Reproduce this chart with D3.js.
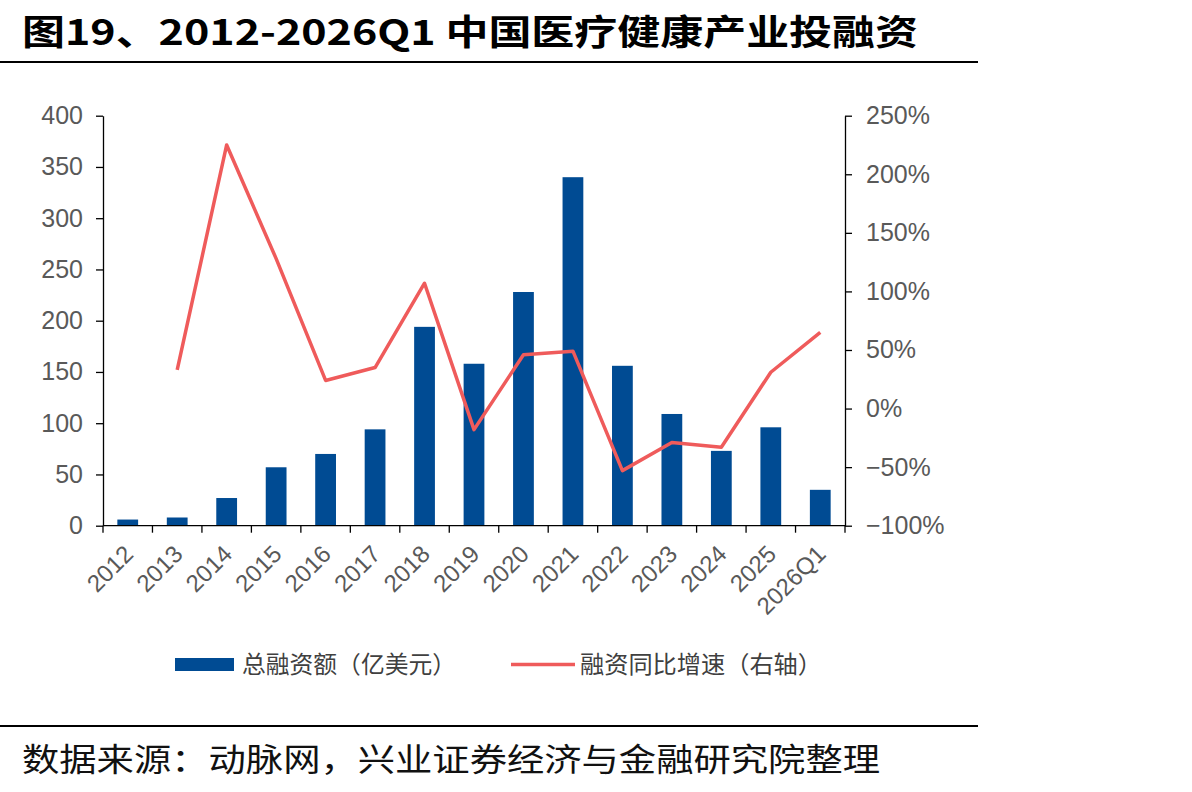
<!DOCTYPE html>
<html>
<head>
<meta charset="utf-8">
<script src="https://cdn.jsdelivr.net/npm/d3@7"></script>
<style>
  body { margin: 0; background: #fff; }
  svg { display: block; }
</style>
</head>
<body>
<div id="chart"></div>
<script>
// data
var years = ["2012","2013","2014","2015","2016","2017","2018","2019","2020","2021","2022","2023","2024","2025","2026Q1"];
var amount = [6, 8, 27, 57, 70, 94, 194, 158, 228, 340, 156, 109, 73, 96, 35];
var growth = [null, 33, 225, 128, 24, 35, 107, -18, 46, 49, -53, -29, -33, 31, 65];
var leftTicks = [0, 50, 100, 150, 200, 250, 300, 350, 400];
var rightTicks = [-100, -50, 0, 50, 100, 150, 200, 250];

var W = 1192, H = 792;
var plot = {left: 103, right: 845, top: 115.7, bottom: 525.7};
var cjk = "'Noto Sans CJK SC', 'Liberation Sans', sans-serif";
var latin = "'Liberation Sans', Arial, sans-serif";

var svg = d3.select("#chart").append("svg")
    .attr("width", W).attr("height", H);

// title + rules
svg.append("text")
    .attr("x", 22).attr("y", 45)
    .attr("font-family", "'Liberation Sans Narrow', 'Noto Sans CJK SC', sans-serif")
    .attr("font-weight", "bold").attr("font-size", 35)
    .attr("textLength", 896).attr("lengthAdjust", "spacingAndGlyphs")
    .attr("fill", "#000")
    .text("图19、2012-2026Q1 中国医疗健康产业投融资");
svg.append("line").attr("x1", 0).attr("x2", 978).attr("y1", 62).attr("y2", 62)
    .attr("stroke", "#000").attr("stroke-width", 2);
svg.append("line").attr("x1", 0).attr("x2", 978).attr("y1", 726).attr("y2", 726)
    .attr("stroke", "#000").attr("stroke-width", 2);
svg.append("text")
    .attr("x", 22).attr("y", 771)
    .attr("font-family", cjk).attr("font-size", 32)
    .attr("textLength", 858).attr("lengthAdjust", "spacingAndGlyphs")
    .attr("fill", "#111")
    .text("数据来源：动脉网，兴业证券经济与金融研究院整理");

// scales
var x = d3.scaleBand().domain(years).range([plot.left, plot.right]).paddingInner(0.58).paddingOuter(0.29);
var xTick = d3.scaleBand().domain(years).range([plot.left, plot.right]);
var yL = d3.scaleLinear().domain([0, 400]).range([plot.bottom, plot.top]);
var yR = d3.scaleLinear().domain([-100, 250]).range([plot.bottom, plot.top]);

// bars
svg.append("g").selectAll("rect")
    .data(years)
    .enter().append("rect")
    .attr("x", function(d) { return x(d); })
    .attr("width", x.bandwidth())
    .attr("y", function(d, i) { return yL(amount[i]); })
    .attr("height", function(d, i) { return yL(0) - yL(amount[i]); })
    .attr("fill", "#004B93");

// growth line (right axis)
var pts = years.map(function(d, i) { return {k: d, v: growth[i]}; });
svg.append("path")
    .datum(pts)
    .attr("fill", "none")
    .attr("stroke", "#EF5B5B")
    .attr("stroke-width", 3.5)
    .attr("stroke-linejoin", "round")
    .attr("d", d3.line()
        .defined(function(d) { return d.v !== null; })
        .x(function(d) { return xTick(d.k) + xTick.bandwidth() / 2; })
        .y(function(d) { return yR(d.v); }));

// axes
function styleAxis(g) {
  g.select(".domain").attr("stroke", "#000").attr("stroke-width", 1.3);
  g.selectAll(".tick line").attr("stroke", "#000").attr("stroke-width", 1.3);
  g.selectAll("text").attr("fill", "#595959").attr("font-size", 25)
    .attr("font-family", latin);
}

var gL = svg.append("g").attr("transform", "translate(" + plot.left + ",0)")
    .call(d3.axisLeft(yL).tickValues(leftTicks).tickSize(7).tickSizeOuter(0).tickPadding(13));
styleAxis(gL);

var pct = function(v) { return (v < 0 ? "\u2212" + Math.abs(v) : v) + "%"; };
var gR = svg.append("g").attr("transform", "translate(" + plot.right + ",0)")
    .call(d3.axisRight(yR).tickValues(rightTicks).tickFormat(pct).tickSize(7).tickSizeOuter(0).tickPadding(14));
styleAxis(gR);

// x axis, ticks on the band edges
var gX = svg.append("g").attr("transform", "translate(0," + plot.bottom + ")");
gX.append("line").attr("x1", plot.left).attr("x2", plot.right)
    .attr("stroke", "#000").attr("stroke-width", 1.3);
gX.selectAll("line.edge")
    .data(years.concat(["end"]))
    .enter().append("line").attr("class", "edge")
    .attr("x1", function(d, i) { return plot.left + i * xTick.step(); })
    .attr("x2", function(d, i) { return plot.left + i * xTick.step(); })
    .attr("y1", 0).attr("y2", 7)
    .attr("stroke", "#000").attr("stroke-width", 1.3);
gX.selectAll("text")
    .data(years)
    .enter().append("text")
    .attr("transform", function(d) {
      return "translate(" + (xTick(d) + xTick.bandwidth() / 2 + 1) + ",24) rotate(-45)";
    })
    .attr("text-anchor", "end")
    .attr("dy", "0.35em")
    .attr("fill", "#595959").attr("font-size", 24)
    .attr("font-family", latin)
    .text(function(d) { return d; });

// legend
var lg = svg.append("g").attr("font-family", cjk).attr("font-size", 24).attr("fill", "#404040");
lg.append("rect").attr("x", 175).attr("y", 658).attr("width", 59).attr("height", 13).attr("fill", "#004B93");
lg.append("text").attr("x", 242).attr("y", 673)
    .attr("textLength", 214).attr("lengthAdjust", "spacingAndGlyphs")
    .text("总融资额（亿美元）");
lg.append("line").attr("x1", 511).attr("x2", 575).attr("y1", 664.5).attr("y2", 664.5)
    .attr("stroke", "#EF5B5B").attr("stroke-width", 3.5);
lg.append("text").attr("x", 580).attr("y", 673)
    .attr("textLength", 242).attr("lengthAdjust", "spacingAndGlyphs")
    .text("融资同比增速（右轴）");
</script>
</body>
</html>
